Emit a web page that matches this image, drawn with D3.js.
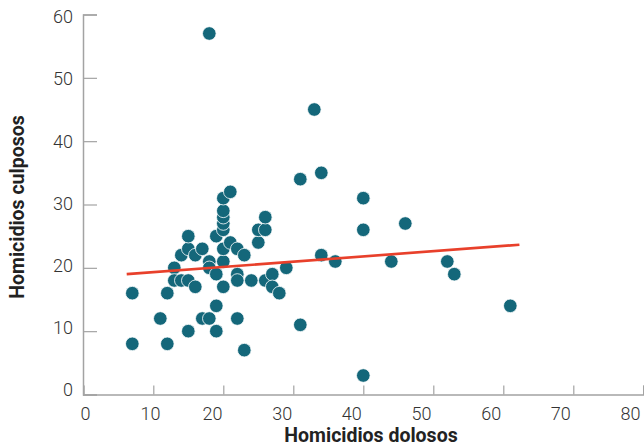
<!DOCTYPE html>
<html><head><meta charset="utf-8">
<script src="https://cdn.jsdelivr.net/npm/d3@7"></script>
<style>
html,body{margin:0;padding:0;background:#fff;}
svg{display:block;}
.tick text{font-family:Roboto,"Liberation Sans",sans-serif;font-weight:300;font-size:18px;fill:#333;}
.title{font-family:Roboto,"Liberation Sans",sans-serif;font-weight:700;font-size:19.5px;fill:#222;}
</style></head>
<body><svg id="c" width="644" height="447"></svg>
<script>
const dolosos = [7,7,11,12,12,13,13,14,15,16,14,15,15,16,17,18,18,15,17,18,19,19,19,19,20,20,20,20,20,20,20,20,21,21,22,23,22,22,22,23,24,25,25,26,26,26,27,27,28,29,31,31,33,34,34,36,40,40,40,44,46,52,53,61,18];
const culposos = [16,8,12,16,8,20,18,18,18,17,22,23,25,22,23,21,20,10,12,12,10,14,25,19,17,21,23,26,27,28,29,31,32,24,23,22,19,18,12,7,18,24,26,26,28,18,19,17,16,20,34,11,45,35,22,21,31,26,3,21,27,21,19,14,57];
const trendX = [6.2, 62.3];
const trendY = [19.0, 23.65];
const xTicks = [0,10,20,30,40,50,60,70,80];
const yTicks = [0,10,20,30,40,50,60];

const svg = d3.select("#c");
const x = d3.scaleLinear().domain([0,80]).range([83.3,643.3]);
const xLab = d3.scaleLinear().domain([0,10,20,80]).range([85,150,212,630]);
const y = d3.scaleLinear().domain([0,60]).range([394.5,14.5]);
const yLab = d3.scaleLinear().domain([0,60]).range([390,17]);

// x axis ticks (inward)
const gx = svg.append("g").attr("transform","translate(0,394.5)")
  .call(d3.axisTop(x).tickValues(xTicks).tickSize(9).tickFormat(""));
gx.select(".domain").attr("stroke","#a3a3a3").attr("stroke-width",1.5);
gx.selectAll(".tick line").attr("stroke","#a3a3a3").attr("stroke-width",1.2);
// x labels
const gxl = svg.append("g").attr("transform","translate(0,420)")
  .call(d3.axisBottom(xLab).tickValues(xTicks).tickSize(0).tickPadding(0));
gxl.select(".domain").remove();
gxl.selectAll(".tick text").attr("dy",0);

// y axis
const gy = svg.append("g").attr("transform","translate(83,0)")
  .call(d3.axisRight(y).tickValues(yTicks).tickSize(14).tickFormat(""));
gy.select(".domain").attr("stroke","#a3a3a3").attr("stroke-width",1.5);
gy.selectAll(".tick line").attr("stroke","#a3a3a3").attr("stroke-width",1.2);
const gyl = svg.append("g").attr("transform","translate(73,0)")
  .call(d3.axisLeft(yLab).tickValues(yTicks).tickSize(0).tickPadding(0));
gyl.select(".domain").remove();

// points
svg.append("g").selectAll("circle").data(dolosos.map((d,i)=>[d,culposos[i]])).join("circle")
  .attr("cx",d=>x(d[0])).attr("cy",d=>y(d[1])).attr("r",6.8)
  .attr("fill","#14677a").attr("stroke","#fff").attr("stroke-width",0.8);

// trend line
svg.append("path").datum(trendX.map((d,i)=>[d,trendY[i]]))
  .attr("d",d3.line().x(d=>x(d[0])).y(d=>y(d[1])))
  .attr("stroke","#e8402b").attr("stroke-width",2.6).attr("fill","none");

svg.append("text").attr("class","title").attr("x",371).attr("y",441.5).attr("text-anchor","middle").text("Homicidios dolosos");
svg.append("text").attr("class","title").attr("transform","translate(24,207) rotate(-90)").attr("text-anchor","middle").text("Homicidios culposos");
</script></body></html>
